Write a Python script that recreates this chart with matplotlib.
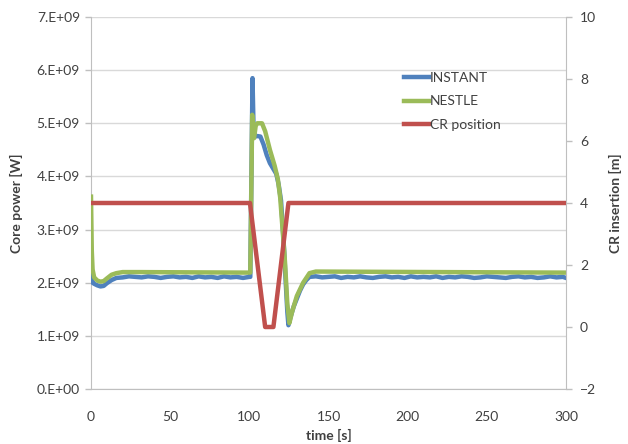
import matplotlib
matplotlib.use("Agg")
import matplotlib.pyplot as plt
import numpy as np

# ---------------- data ----------------
inst_t = [0, 0.5, 1, 2, 4, 6, 8, 10, 13, 16,
          20, 24, 28, 32, 36, 40, 44, 48, 52, 56, 60, 64, 68, 72, 76, 80, 84, 88, 92, 96, 100,
          100.6, 101.5, 102, 102.6, 103.5, 105, 107, 109, 111, 113, 115, 117, 118.5, 120, 121,
          122, 123, 124, 124.7, 126, 128, 130, 132, 134, 136, 138,
          142, 146, 150, 154, 158, 162, 166, 170, 174, 178, 182, 186, 190, 194, 198, 202, 206,
          210, 214, 218, 222, 226, 230, 234, 238, 242, 246, 250, 254, 258, 262, 266, 270, 274,
          278, 282, 286, 290, 294, 298, 300]
inst_p = [2.40, 2.10, 2.00, 1.98, 1.95, 1.93, 1.94, 1.99, 2.05, 2.09,
          2.10, 2.12, 2.11, 2.10, 2.12, 2.11, 2.09, 2.11, 2.12, 2.10, 2.11, 2.09, 2.12, 2.10, 2.11,
          2.09, 2.12, 2.10, 2.11, 2.09, 2.11,
          2.11, 4.50, 5.85, 5.00, 4.75, 4.76, 4.75, 4.60, 4.40, 4.25, 4.15, 4.05, 3.85, 3.55, 3.10,
          2.60, 2.00, 1.45, 1.20, 1.35, 1.55, 1.70, 1.85, 1.97, 2.05, 2.11,
          2.12, 2.10, 2.11, 2.12, 2.09, 2.11, 2.10, 2.12, 2.10, 2.09, 2.11, 2.12, 2.10, 2.11,
          2.09, 2.12, 2.10, 2.11, 2.10, 2.12, 2.09, 2.11, 2.10, 2.12, 2.11, 2.09, 2.10, 2.12,
          2.11, 2.10, 2.09, 2.11, 2.12, 2.10, 2.11, 2.09, 2.10, 2.12, 2.10, 2.11, 2.09]

nestle_t = [0, 0.5, 1, 2, 4, 6, 8, 10, 13, 16, 20, 30, 100, 100.6, 101.2, 101.8, 102.5, 103,
            104, 105, 108, 110, 113, 116, 118, 119.5, 121, 122.5, 124, 125.3, 127, 130, 134,
            138, 142, 300]
nestle_p = [3.62, 2.60, 2.25, 2.10, 2.04, 2.02, 2.03, 2.08, 2.15, 2.18, 2.20, 2.20, 2.19, 2.19,
            3.60, 5.16, 4.75, 4.72, 4.95, 5.00, 5.00, 4.85, 4.50, 4.20, 3.95, 3.60, 3.00, 2.40,
            1.60, 1.24, 1.45, 1.75, 2.00, 2.18, 2.21, 2.19]

cr_t = [0, 100.4, 110, 115.2, 124.7, 300]
cr_x = [4, 4, 0, 0, 4, 4]

left_ticks = [0, 1, 2, 3, 4, 5, 6, 7]
left_labels = ["0.E+00", "1.E+09", "2.E+09", "3.E+09", "4.E+09", "5.E+09", "6.E+09", "7.E+09"]
right_ticks = [-2, 0, 2, 4, 6, 8, 10]
x_ticks = [0, 50, 100, 150, 200, 250, 300]

# ---------------- style ----------------
plt.rcParams['font.family'] = ['Lato', 'DejaVu Sans']
BLUE = "#4F81BD"
GREEN = "#9BBB59"
RED = "#C0504D"
GRID = "#D9D9D9"
AX = "#BFBFBF"
TXT = "#404040"

fig = plt.figure(figsize=(6.28, 4.44), dpi=100)
ax = fig.add_axes([91/628, 1-389/444, (566-91)/628, (389-17)/444])
ax2 = ax.twinx()

l1, = ax.plot(inst_t, np.array(inst_p) * 1e9, color=BLUE, lw=3.2, solid_joinstyle='round',
              label="INSTANT", zorder=3)
l2, = ax.plot(nestle_t, np.array(nestle_p) * 1e9, color=GREEN, lw=3.2, solid_joinstyle='round',
              label="NESTLE", zorder=4)
l3, = ax2.plot(cr_t, cr_x, color=RED, lw=3.2, label="CR position", zorder=5)

ax.set_xlim(0, 300)
ax.set_ylim(0, 7e9)
ax2.set_ylim(-2, 10)
ax.set_yticks(np.array(left_ticks) * 1e9)
ax.set_yticklabels(left_labels)
ax2.set_yticks(right_ticks)
ax.set_xticks(x_ticks)

ax.grid(axis='y', color=GRID, lw=1)
ax.set_axisbelow(True)

for a in (ax, ax2):
    for s in a.spines.values():
        s.set_color(AX)
    a.spines['top'].set_visible(False)
    a.tick_params(colors=AX, labelcolor=TXT, labelsize=10, length=4, width=1)
ax.spines['right'].set_visible(False)
ax2.spines['left'].set_visible(False)
ax2.spines['bottom'].set_visible(False)
ax.tick_params(axis='x', length=0, pad=16)
ax.tick_params(axis='y', pad=4)
ax2.tick_params(axis='y', pad=6)

ax.set_xlabel("time [s]", fontsize=10, fontweight='bold', color=TXT, labelpad=4)
ax.set_ylabel("Core power [W]", fontsize=10, fontweight='bold', color=TXT, labelpad=10)
ax2.set_ylabel("CR insertion [m]", fontsize=10, fontweight='bold', color=TXT, labelpad=9)

leg = fig.legend(handles=[l1, l2, l3], loc='upper left', bbox_to_anchor=(404/628, 1-72/444),
                 frameon=False, fontsize=10, handlelength=1.8, handletextpad=0.05,
                 labelspacing=0.82, borderpad=0, borderaxespad=0)
for t in leg.get_texts():
    t.set_color(TXT)

fig.savefig("out.png", dpi=100)
